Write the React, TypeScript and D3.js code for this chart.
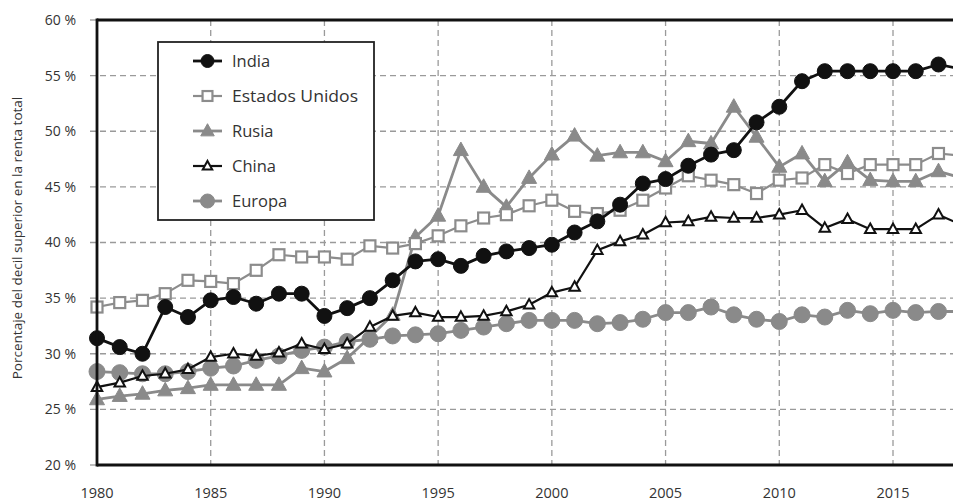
import React from "react";
import * as d3 from "d3";

const years: number[] = d3.range(1980, 2019);

const india: number[] = [31.4, 30.6, 30.0, 34.2, 33.3, 34.8, 35.1, 34.5, 35.4, 35.4, 33.4, 34.1, 35.0, 36.6, 38.3, 38.5, 37.9, 38.8, 39.2, 39.5, 39.8, 40.9, 41.9, 43.4, 45.3, 45.7, 46.9, 47.9, 48.3, 50.8, 52.2, 54.5, 55.4, 55.4, 55.4, 55.4, 55.4, 56.0, 55.6];
const usa: number[] = [34.2, 34.6, 34.8, 35.4, 36.6, 36.5, 36.3, 37.5, 38.9, 38.7, 38.7, 38.5, 39.7, 39.5, 39.9, 40.6, 41.5, 42.2, 42.5, 43.3, 43.8, 42.8, 42.6, 42.9, 43.8, 44.9, 46.0, 45.6, 45.2, 44.4, 45.6, 45.8, 47.0, 46.2, 47.0, 47.0, 47.0, 48.0, 47.8];
const russia: number[] = [25.9, 26.2, 26.4, 26.7, 26.9, 27.2, 27.2, 27.2, 27.2, 28.7, 28.4, 29.6, 31.5, 33.5, 40.5, 42.4, 48.3, 45.0, 43.2, 45.8, 47.9, 49.6, 47.8, 48.1, 48.1, 47.3, 49.1, 48.9, 52.2, 49.5, 46.8, 48.0, 45.5, 47.2, 45.6, 45.5, 45.5, 46.4, 45.8];
const china: number[] = [27.0, 27.4, 28.0, 28.2, 28.6, 29.7, 30.0, 29.8, 30.1, 30.9, 30.4, 30.9, 32.4, 33.4, 33.7, 33.3, 33.3, 33.4, 33.8, 34.4, 35.5, 36.0, 39.3, 40.1, 40.7, 41.8, 41.9, 42.3, 42.2, 42.2, 42.5, 42.9, 41.3, 42.1, 41.2, 41.2, 41.2, 42.5, 41.6];
const europe: number[] = [28.4, 28.3, 28.2, 28.2, 28.4, 28.7, 28.9, 29.4, 29.8, 30.3, 30.6, 31.1, 31.3, 31.6, 31.7, 31.8, 32.1, 32.4, 32.7, 33.0, 33.0, 33.0, 32.7, 32.8, 33.1, 33.7, 33.7, 34.2, 33.5, 33.1, 32.9, 33.5, 33.3, 33.9, 33.6, 33.9, 33.7, 33.8, 33.8];

const seriesNames: string[] = ["India", "Estados Unidos", "Rusia", "China", "Europa"];
const xTicks: number[] = [1980, 1985, 1990, 1995, 2000, 2005, 2010, 2015];
const yTicks: number[] = [20, 25, 30, 35, 40, 45, 50, 55, 60];
const yTitle = "Porcentaje del decil superior en la renta total";

type Kind = "circle" | "square" | "triFill" | "triOpen" | "bigCircle";
interface Style { kind: Kind; line: string; lw: number; fill: string; stroke: string; size: number; }

const styles: Record<string, Style> = {
  India: { kind: "circle", line: "#111", lw: 2.8, fill: "#111", stroke: "#111", size: 7.5 },
  "Estados Unidos": { kind: "square", line: "#8c8c8c", lw: 2.2, fill: "#fff", stroke: "#8c8c8c", size: 11 },
  Rusia: { kind: "triFill", line: "#8a8a8a", lw: 2.8, fill: "#8a8a8a", stroke: "#8a8a8a", size: 15 },
  China: { kind: "triOpen", line: "#111", lw: 2.2, fill: "#fff", stroke: "#111", size: 10.5 },
  Europa: { kind: "bigCircle", line: "#8a8a8a", lw: 2.8, fill: "#8a8a8a", stroke: "#8a8a8a", size: 8 },
};

const W = 953, H = 501;
const left = 97, top = 20, bottom = 465;
const x = d3.scaleLinear().domain([1980, 2015]).range([left, 893]);
const y = d3.scaleLinear().domain([20, 60]).range([bottom, top]);

function Marker({ cx, cy, s }: { cx: number; cy: number; s: Style }) {
  if (s.kind === "circle" || s.kind === "bigCircle") {
    return <circle cx={cx} cy={cy} r={s.size} fill={s.fill} stroke={s.stroke} strokeWidth={1} />;
  }
  if (s.kind === "square") {
    const h = s.size / 2;
    return <rect x={cx - h} y={cy - h} width={s.size} height={s.size} fill={s.fill} stroke={s.stroke} strokeWidth={2.2} />;
  }
  const w = s.size;
  const hgt = w * 0.9;
  const pts = `${cx},${cy - hgt * 0.6} ${cx + w / 2},${cy + hgt * 0.4} ${cx - w / 2},${cy + hgt * 0.4}`;
  return <polygon points={pts} fill={s.fill} stroke={s.stroke} strokeWidth={s.kind === "triOpen" ? 2 : 1} strokeLinejoin="miter" />;
}

export default function App() {
  const dataMap: Record<string, number[]> = {
    India: india,
    "Estados Unidos": usa,
    Rusia: russia,
    China: china,
    Europa: europe,
  };
  const drawOrder = ["Rusia", "Europa", "China", "Estados Unidos", "India"];
  const line = d3.line<number>().x((_, i) => x(years[i])).y((v) => y(v));
  const font = "'Open Sans', 'Noto Sans', sans-serif";

  return (
    <svg width={W} height={H} style={{ position: "absolute", left: 0, top: 0, background: "#fff" }} fontFamily={font}>
      <rect x={0} y={0} width={W} height={H} fill="#fff" />
      {/* grid */}
      {yTicks.map((t) => (
        <line key={"gy" + t} x1={90} x2={t === 20 || t === 60 ? left : W} y1={y(t)} y2={y(t)} stroke="#9a9a9a" strokeWidth={1.3} strokeDasharray="6,4" />
      ))}
      {xTicks.map((t) => (
        <line key={"gx" + t} x1={x(t)} x2={x(t)} y1={top} y2={bottom + 5} stroke="#9a9a9a" strokeWidth={1.3} strokeDasharray="6,4" />
      ))}
      {/* labels */}
      {yTicks.map((t) => (
        <text key={"ly" + t} x={76} y={y(t)} dy="0.35em" textAnchor="end" fontSize={14} fill="#333">
          {t} %
        </text>
      ))}
      {xTicks.map((t) => (
        <text key={"lx" + t} x={x(t)} y={498} textAnchor="middle" fontSize={14.5} fill="#333">
          {t}
        </text>
      ))}
      <text transform={`translate(17,238) rotate(-90)`} textAnchor="middle" dy="0.35em" fontSize={13.5} fill="#333">
        {yTitle}
      </text>
      {/* series */}
      {drawOrder.map((name) => {
        const s = styles[name];
        const vals = dataMap[name];
        return (
          <g key={name}>
            <path d={line(vals) || ""} fill="none" stroke={s.line} strokeWidth={s.lw} strokeLinejoin="round" />
            {vals.map((v, i) => (
              <Marker key={i} cx={x(years[i])} cy={y(v)} s={s} />
            ))}
          </g>
        );
      })}
      {/* frame */}
      <line x1={left} x2={W} y1={top} y2={top} stroke="#111" strokeWidth={2.8} />
      <line x1={left} x2={W} y1={bottom} y2={bottom} stroke="#111" strokeWidth={2.8} />
      <line x1={left} x2={left} y1={top - 1.4} y2={bottom + 1.4} stroke="#111" strokeWidth={2.8} />
      {/* legend */}
      <g>
        <rect x={158} y={42} width={216} height={178} fill="#fff" stroke="#222" strokeWidth={1.8} />
        {seriesNames.map((name, i) => {
          const s = styles[name];
          const cy = 61 + i * 35;
          const ls = { ...s, size: s.kind === "circle" ? 6.5 : s.kind === "bigCircle" ? 7 : s.size * 0.9 };
          return (
            <g key={"lg" + name}>
              <line x1={193} x2={222} y1={cy} y2={cy} stroke={s.line} strokeWidth={s.lw} />
              <Marker cx={207.5} cy={cy} s={ls} />
              <text x={232} y={cy} dy="0.36em" fontSize={16.5} fill="#333" textLength={name === "Estados Unidos" ? 126 : undefined} lengthAdjust="spacingAndGlyphs">
                {name}
              </text>
            </g>
          );
        })}
      </g>
    </svg>
  );
}
